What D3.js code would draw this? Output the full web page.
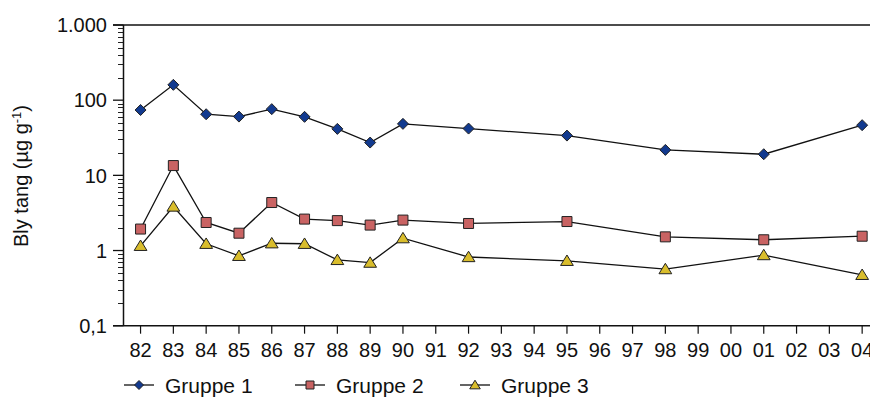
<!DOCTYPE html>
<html>
<head>
<meta charset="utf-8">
<script src="https://cdn.jsdelivr.net/npm/d3@7"></script>
<style>
  body { margin: 0; background: #fff; }
  text { font-family: "Liberation Sans", Arial, sans-serif; fill: #111; }
</style>
</head>
<body>
<div id="chart"></div>
<script>
// years on x axis
const years = [1982, 1983, 1984, 1985, 1986, 1987, 1988, 1989, 1990, 1992, 1995, 1998, 2001, 2004];
const tickYears = d3.range(1982, 2005);
const gruppe1 = [74, 160, 65, 60.5, 76, 60, 41.5, 27.3, 48.4, 41.9, 33.8, 21.8, 19.1, 46.5];
const gruppe2 = [1.93, 13.5, 2.36, 1.70, 4.35, 2.62, 2.5, 2.18, 2.54, 2.29, 2.43, 1.52, 1.39, 1.55];
const gruppe3 = [1.155, 3.85, 1.23, 0.85, 1.25, 1.23, 0.75, 0.69, 1.46, 0.82, 0.73, 0.566, 0.87, 0.475];
const seriesNames = ["Gruppe 1", "Gruppe 2", "Gruppe 3"];
const yTicks = [0.1, 1, 10, 100, 1000];
const yTickLabels = ["0,1", "1", "10", "100", "1.000"];

var width = 870;
var height = 397;

const svg = d3.select("#chart")
    .append("svg")
    .attr("width", width)
    .attr("height", height);

const x = d3.scaleLinear()
    .domain([1981.48, 2004.48])
    .range([123.5, 123.5 + 23 * 32.8]);

const y = d3.scaleLog()
    .domain([0.1, 1000])
    .range([325.7, 25]);

// minor ticks 2..9 per decade
var minor = [];
[0.1, 1, 10, 100].forEach(function (d) {
    for (var k = 2; k <= 9; k++) minor.push(d * k);
});

svg.append("g").selectAll("line")
    .data(minor)
    .enter()
    .append("line")
    .attr("x1", 118).attr("x2", 123.5)
    .attr("y1", d => Math.round(y(d)) + 0.5).attr("y2", d => Math.round(y(d)) + 0.5)
    .attr("stroke", "#222").attr("stroke-width", 1);

svg.append("g").selectAll("line")
    .data(yTicks)
    .enter()
    .append("line")
    .attr("x1", 113).attr("x2", 123.5)
    .attr("y1", d => y(d)).attr("y2", d => y(d))
    .attr("stroke", "#111").attr("stroke-width", 1.3);

// top frame line and x axis line
svg.append("line")
    .attr("x1", 113).attr("x2", width)
    .attr("y1", y(1000)).attr("y2", y(1000))
    .attr("stroke", "#111").attr("stroke-width", 1.5);
svg.append("line")
    .attr("x1", 113).attr("x2", width)
    .attr("y1", y(0.1)).attr("y2", y(0.1))
    .attr("stroke", "#111").attr("stroke-width", 1.5);
// y axis line
svg.append("line")
    .attr("x1", 123.5).attr("x2", 123.5)
    .attr("y1", y(1000)).attr("y2", y(0.1))
    .attr("stroke", "#111").attr("stroke-width", 1.5);

svg.append("g").selectAll("text")
    .data(yTicks)
    .enter()
    .append("text")
    .text((d, i) => yTickLabels[i])
    .attr("x", 107)
    .attr("y", d => y(d))
    .attr("dy", "0.36em")
    .attr("text-anchor", "end")
    .style("font-size", "20px");

// x ticks
svg.append("g").selectAll("line")
    .data(tickYears)
    .enter()
    .append("line")
    .attr("x1", d => x(d)).attr("x2", d => x(d))
    .attr("y1", y(0.1)).attr("y2", y(0.1) + 8)
    .attr("stroke", "#111").attr("stroke-width", 1.2);

svg.append("g").selectAll("text")
    .data(tickYears)
    .enter()
    .append("text")
    .text(d => String(d % 100).padStart(2, "0"))
    .attr("x", d => x(d))
    .attr("y", 357)
    .attr("text-anchor", "middle")
    .style("font-size", "20px");

// y title
svg.append("text")
    .attr("transform", "translate(28,176) rotate(-90)")
    .attr("text-anchor", "middle")
    .style("font-size", "20px")
    .html('Bly tang (µg g<tspan dy="-7" style="font-size:13px">-1</tspan><tspan dy="7">)</tspan>');

// markers
function diamond(s) { return `M0,${-s}L${s},0L0,${s}L${-s},0Z`; }
function square(s) { return `M${-s},${-s}H${s}V${s}H${-s}Z`; }
function triangle(s) { return `M0,${-s}L${s * 1.1},${s * 0.8}L${-s * 1.1},${s * 0.8}Z`; }

const series = [
    { name: seriesNames[0], values: gruppe1, fill: "#123a8f", shape: diamond, size: 5.5, lsize: 4.5 },
    { name: seriesNames[1], values: gruppe2, fill: "#c96363", shape: square, size: 5, lsize: 4 },
    { name: seriesNames[2], values: gruppe3, fill: "#d9bd2c", shape: triangle, size: 5.8, lsize: 4.8 }
];

const line = d3.line()
    .x((d, i) => x(years[i]))
    .y(d => y(d));

series.forEach(function (s) {
    svg.append("path")
        .datum(s.values)
        .attr("d", line)
        .attr("fill", "none")
        .attr("stroke", "#111")
        .attr("stroke-width", 1.3);

    svg.append("g").selectAll("path")
        .data(s.values)
        .enter()
        .append("path")
        .attr("d", s.shape(s.size))
        .attr("transform", (d, i) => `translate(${x(years[i])},${y(d)})`)
        .attr("fill", s.fill)
        .attr("stroke", "#222")
        .attr("stroke-width", 1);
});

// legend
const legendX = [124, 295, 460];
series.forEach(function (s, i) {
    const g = svg.append("g").attr("transform", `translate(${legendX[i]},385)`);
    g.append("line").attr("x1", 0).attr("x2", 30).attr("y1", 0).attr("y2", 0)
        .attr("stroke", "#111").attr("stroke-width", 1.3);
    g.append("path").attr("d", s.shape(s.lsize)).attr("transform", "translate(15,0)")
        .attr("fill", s.fill).attr("stroke", "#222").attr("stroke-width", 1);
    g.append("text").text(s.name).attr("x", 41).attr("y", 0).attr("dy", "0.36em")
        .style("font-size", "21px");
});
</script>
</body>
</html>
